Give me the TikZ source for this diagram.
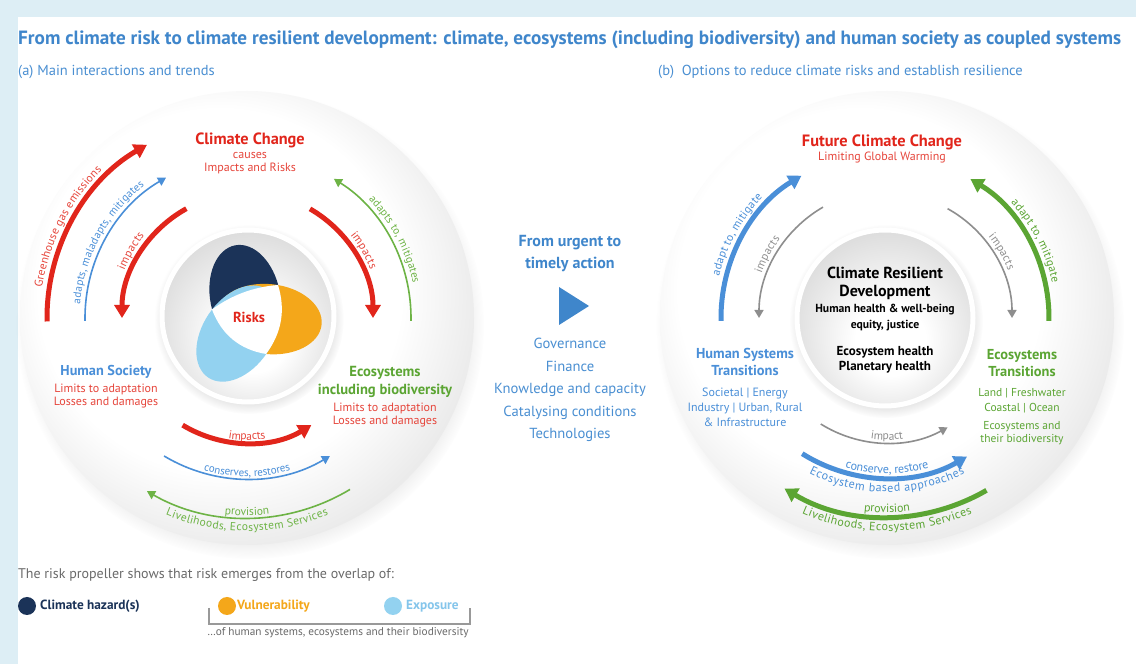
\documentclass[tikz,border=0pt]{standalone}
\usepackage{fontspec}
\setmainfont{PT Sans}
\usetikzlibrary{arrows.meta,decorations.text,shadows,fadings}

\definecolor{framebg}{HTML}{DDEEF5}
\definecolor{headblue}{HTML}{3F86CB}
\definecolor{subblue}{HTML}{4A8FD2}
\definecolor{ccred}{HTML}{E1251B}
\definecolor{lightred}{HTML}{E6453B}
\definecolor{ecogreen}{HTML}{5BA533}
\definecolor{thingreen}{HTML}{6DB345}
\definecolor{socblue}{HTML}{4A8FD8}
\definecolor{hazardnavy}{HTML}{1B3358}
\definecolor{vulnorange}{HTML}{F4A71A}
\definecolor{expblue}{HTML}{93D2F0}
\definecolor{textgray}{HTML}{6A6A6A}
\definecolor{arrowgray}{HTML}{8E8E8E}

\pgfdeclareradialshading{diskshade}{\pgfpoint{-5bp}{5bp}}{color(0bp)=(white); color(20bp)=(white); color(30bp)=(black!10); color(50bp)=(black!10)}
\pgfdeclareradialshading{coreshade}{\pgfpoint{2bp}{-8bp}}{color(0bp)=(white); color(10bp)=(white); color(33bp)=(black!17); color(50bp)=(black!17)}

\newcommand\fsz[2]{\fontsize{#1}{#2}\selectfont}

\begin{document}
\begin{tikzpicture}[x=1pt, y=1pt,
    lbl/.style={inner sep=0pt, align=center},
    bigarrow/.style={line width=5pt, -{Triangle[length=13pt,width=15pt]}},
    thinarrow/.style={line width=1.6pt, -{Triangle[length=8pt,width=9pt]}},
    arctext/.style n args={4}{decorate, decoration={text along path,
        text align=center, raise=#4, text={|\fsz{#1}{#1}\color{#2}|#3}}},
    disk/.style={circle, inner sep=0pt, minimum size=454pt, shading=diskshade,
        circular drop shadow={shadow xshift=3pt, shadow yshift=-7pt,
        shadow scale=1.03, opacity=0.25}},
    core/.style={circle, inner sep=0pt, minimum size=#1, draw=white,
        line width=5pt, shading=coreshade,
        circular drop shadow={shadow xshift=1pt, shadow yshift=-3pt,
        shadow scale=1.1, opacity=0.25}}]
\useasboundingbox (0,0) rectangle (1136,664);
\fill[framebg] (0,0) rectangle (1136,664);
\fill[white] (18,0) rectangle (1136,647);

% headings
\node[anchor=west, inner sep=0pt, font=\bfseries\fsz{19.2}{22}, text=headblue] (title) at (18,624)
    {From climate risk to climate resilient development: climate, ecosystems (including biodiversity) and human society as coupled systems};
\node[anchor=west, inner sep=0pt, font=\fsz{14.5}{17}, text=subblue] (parta) at (18,592) {(a) Main interactions and trends};
\node[anchor=west, inner sep=0pt, font=\fsz{14.5}{17}, text=subblue] (partb) at (658,592) {(b)~~Options to reduce climate risks and establish resilience};

% the two disks
\coordinate (c1) at (247,346);
\coordinate (c2) at (887,346);
\node[disk] (disk1) at (c1) {};
\node[disk] (disk2) at (c2) {};
\node[core=172pt] (core1) at (248,348) {};
\node[core=176pt] (core2) at (885,346) {};

% risk propeller
\coordinate (prop) at (249,347);
\fill[hazardnavy, shift={(prop)}, rotate=101] (20,0) ellipse[x radius=53, y radius=35];
\fill[vulnorange, shift={(prop)}, rotate=-6] (20,0) ellipse[x radius=53, y radius=35];
\fill[expblue, shift={(prop)}, rotate=236] (20,0) ellipse[x radius=53, y radius=35];
\fill[white] (278,379) .. controls (253.7,377.1) and (231.7,369) .. (212,354.5)
    .. controls (221.5,329.4) and (239.5,314.5) .. (266,310)
    .. controls (281.8,331) and (285.8,354) .. (278,379) -- cycle;
\node[lbl, font=\bfseries\fsz{14.5}{16}, text=ccred] (risks) at (prop) {Risks};

% (a) arrows
\draw[bigarrow, ccred] ([shift={(c1)}]181:200) arc[start angle=181, end angle=120, radius=200];
\path[arctext={11.5}{lightred}{Greenhouse gas emissions}{7pt}] ([shift={(c1)}]185:200) arc[start angle=185, end angle=121, radius=200];
\draw[thinarrow, socblue] ([shift={(c1)}]181:162) arc[start angle=181, end angle=120, radius=162];
\path[arctext={11}{socblue}{adapts, maladapts, mitigates}{5.5pt}] ([shift={(c1)}]182:162) arc[start angle=182, end angle=121, radius=162];
\draw[bigarrow, ccred] ([shift={(c1)}]119:125) arc[start angle=119, end angle=180, radius=125];
\path[arctext={11.5}{lightred}{impacts}{6.5pt}] ([shift={(c1)}]180:125) arc[start angle=180, end angle=120, radius=125];
\draw[bigarrow, ccred] ([shift={(c1)}]60:126) arc[start angle=60, end angle=0, radius=126];
\path[arctext={11.5}{lightred}{impacts}{6.5pt}] ([shift={(c1)}]60:126) arc[start angle=60, end angle=0, radius=126];
\draw[thinarrow, thingreen] ([shift={(c1)}]-1:164) arc[start angle=-1, end angle=58, radius=164];
\path[arctext={11}{thingreen}{adapts to, mitigates}{5.5pt}] ([shift={(c1)}]58:164) arc[start angle=58, end angle=-2, radius=164];
\draw[bigarrow, ccred] ([shift={(c1)}]239:125) arc[start angle=239, end angle=301, radius=125];
\path[arctext={11.5}{lightred}{impacts}{3pt}] ([shift={(c1)}]240:125) arc[start angle=240, end angle=300, radius=125];
\draw[thinarrow, socblue] ([shift={(c1)}]239:161) arc[start angle=239, end angle=301, radius=161];
\path[arctext={11}{socblue}{conserves, restores}{2.5pt}] ([shift={(c1)}]240:161) arc[start angle=240, end angle=300, radius=161];
\draw[thinarrow, thingreen] ([shift={(c1)}]301:200) arc[start angle=301, end angle=240, radius=200];
\path[arctext={11.5}{thingreen}{provision}{2.5pt}] ([shift={(c1)}]240:200) arc[start angle=240, end angle=300, radius=200];
\path[arctext={11.5}{thingreen}{Livelihoods, Ecosystem Services}{-13pt}] ([shift={(c1)}]240:200) arc[start angle=240, end angle=300, radius=200];

% (a) labels
\node[lbl, font=\bfseries\fsz{16.3}{18}, text=ccred] (cc) at (250,524) {Climate Change};
\node[lbl, font=\fsz{12}{13}, text=lightred] (ccsub) at (250,500.5) {causes\\Impacts and Risks};
\node[lbl, font=\bfseries\fsz{14.3}{16}, text=socblue] (society) at (106,292) {Human Society};
\node[lbl, font=\fsz{12}{12.5}, text=lightred] (socsub) at (106,268) {Limits to adaptation\\Losses and damages};
\node[lbl, font=\bfseries\fsz{14.6}{18}, text=ecogreen] (ecosys) at (385,282) {Ecosystems\\including biodiversity};
\node[lbl, font=\fsz{12}{12.5}, text=lightred] (ecosub) at (385,249) {Limits to adaptation\\Losses and damages};

% middle
\node[lbl, font=\bfseries\fsz{16}{22}, text=headblue] (urgent) at (570,410) {From urgent to\\timely action};
\fill[headblue] (559,377) -- (589,358) -- (559,339) -- cycle;
\node[lbl, font=\fsz{14.6}{22.5}, text=subblue] (enablers) at (570,274)
    {Governance\\Finance\\Knowledge and capacity\\Catalysing conditions\\Technologies};

% (b) arrows
\draw[bigarrow, socblue] ([shift={(c2)}]181:166) arc[start angle=181, end angle=121, radius=166];
\path[arctext={11.5}{socblue}{adapt to, mitigate}{7pt}] ([shift={(c2)}]181:166) arc[start angle=181, end angle=121, radius=166];
\draw[thinarrow, arrowgray] ([shift={(c2)}]120:128) arc[start angle=120, end angle=180, radius=128];
\path[arctext={11.5}{arrowgray}{impacts}{5pt}] ([shift={(c2)}]180:128) arc[start angle=180, end angle=124, radius=128];
\draw[thinarrow, arrowgray] ([shift={(c2)}]61:125) arc[start angle=61, end angle=0, radius=125];
\path[arctext={11.5}{arrowgray}{impacts}{5pt}] ([shift={(c2)}]60:125) arc[start angle=60, end angle=0, radius=125];
\draw[bigarrow, ecogreen] ([shift={(c2)}]-1:162) arc[start angle=-1, end angle=59, radius=162];
\path[arctext={11.5}{ecogreen}{adapt to, mitigate}{7pt}] ([shift={(c2)}]57:162) arc[start angle=57, end angle=-2, radius=162];
\draw[thinarrow, arrowgray] ([shift={(c2)}]238:125) arc[start angle=238, end angle=299, radius=125];
\path[arctext={11.5}{arrowgray}{impact}{3pt}] ([shift={(c2)}]240:125) arc[start angle=240, end angle=300, radius=125];
\draw[bigarrow, socblue] ([shift={(c2)}]238:160) arc[start angle=238, end angle=300, radius=160];
\path[arctext={12}{socblue}{conserve, restore}{4.5pt}] ([shift={(c2)}]240:160) arc[start angle=240, end angle=300, radius=160];
\path[arctext={12}{socblue}{Ecosystem based approaches}{-14pt}] ([shift={(c2)}]240:160) arc[start angle=240, end angle=300, radius=160];
\draw[bigarrow, ecogreen] ([shift={(c2)}]300:199) arc[start angle=300, end angle=239, radius=199];
\path[arctext={12}{ecogreen}{provision}{4.5pt}] ([shift={(c2)}]240:199) arc[start angle=240, end angle=300, radius=199];
\path[arctext={12}{ecogreen}{Livelihoods, Ecosystem Services}{-14pt}] ([shift={(c2)}]240:199) arc[start angle=240, end angle=300, radius=199];

% (b) labels
\node[lbl, font=\bfseries\fsz{16.4}{18}, text=ccred] (futurecc) at (882,522) {Future Climate Change};
\node[lbl, font=\fsz{12}{14}, text=lightred] (warming) at (882,506) {Limiting Global Warming};
\node[lbl, font=\bfseries\fsz{16}{18}] (crd) at (885,381) {Climate Resilient\\Development};
\node[lbl, font=\bfseries\fsz{11.7}{16}] (wellbeing) at (885,346) {Human health \& well-being\\equity, justice};
\node[lbl, font=\bfseries\fsz{13}{14.5}] (health) at (885,304) {Ecosystem health\\Planetary health};
\node[lbl, font=\bfseries\fsz{14.4}{17}, text=socblue] (hst) at (745,302.5) {Human Systems\\Transitions};
\node[lbl, font=\fsz{12}{15}, text=socblue] (hstsub) at (745,257) {Societal | Energy\\Industry | Urban, Rural\\\& Infrastructure};
\node[lbl, font=\bfseries\fsz{14.4}{17}, text=ecogreen] (est) at (1022,300.5) {Ecosystems\\Transitions};
\node[lbl, font=\fsz{11.5}{15}, text=ecogreen] (estsub) at (1022,263.5) {Land | Freshwater\\Coastal | Ocean};
\node[lbl, font=\fsz{11.5}{13}, text=ecogreen] (estbio) at (1022,230.5) {Ecosystems and\\their biodiversity};

% legend
\node[anchor=west, inner sep=0pt, font=\fsz{14}{17}, text=textgray] (legend) at (18,89)
    {The risk propeller shows that risk emerges from the overlap of:};
\node[circle, fill=hazardnavy, minimum size=18pt, inner sep=0pt] (hazdot) at (27,58) {};
\node[anchor=west, inner sep=0pt, font=\bfseries\fsz{13.3}{15}, text=hazardnavy] (hazard) at (40,58) {Climate hazard(s)};
\node[circle, fill=vulnorange, minimum size=18pt, inner sep=0pt] (vuldot) at (227,58) {};
\node[anchor=west, inner sep=0pt, font=\bfseries\fsz{13.3}{15}, text=vulnorange] (vulner) at (237,58) {Vulnerability};
\node[circle, fill=expblue, minimum size=18pt, inner sep=0pt] (expdot) at (393,58) {};
\node[anchor=west, inner sep=0pt, font=\bfseries\fsz{13.3}{15}, text=expblue!80!socblue] (expos) at (406,58) {Exposure};
\draw[black!40, line width=1.2pt] (209,56) -- (209,40) -- (470,40) -- (470,56);
\node[lbl, font=\fsz{11.3}{13}, text=textgray] (ofsys) at (338,31) {\dots of human systems, ecosystems and their biodiversity};
\end{tikzpicture}
\end{document}
